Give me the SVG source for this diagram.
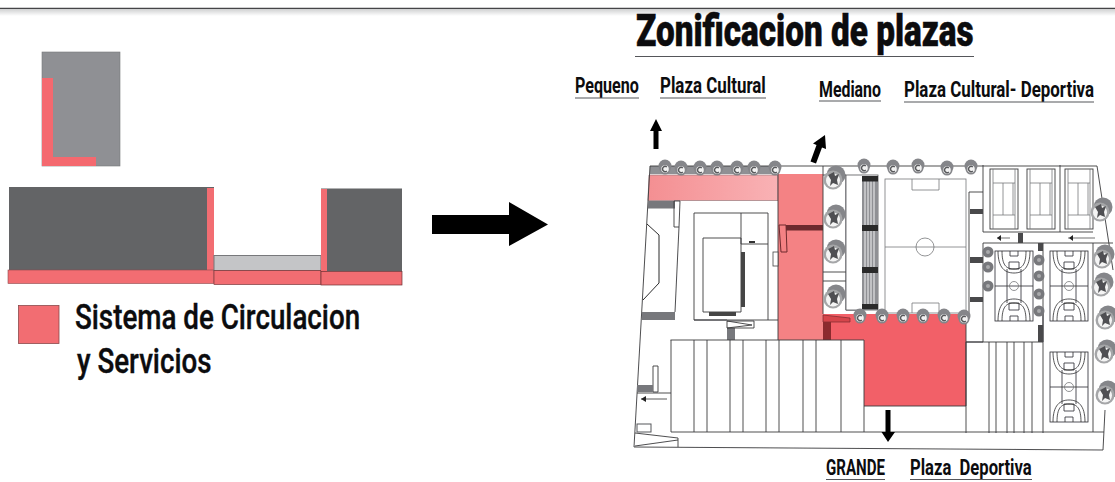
<svg xmlns="http://www.w3.org/2000/svg" width="1115" height="482" viewBox="0 0 1115 482">
<style>
.t{font-family:"Roboto","Liberation Sans",sans-serif;font-weight:700;fill:#0c0c0e}
.h{font-weight:900;stroke:#0c0c0e;stroke-width:.5}
.l{fill:none;stroke:#3a3a3c;stroke-width:.9}
.g{fill:none;stroke:#77787b;stroke-width:.8}
.k{fill:#2a2a2c}
.pk{fill:#f26d72}
.u{stroke:#55565a;stroke-width:1.2}
.a{fill:#000}
</style>
<defs>
<linearGradient id="shade" x1="0" y1="0" x2="0" y2="1"><stop offset="0" stop-color="#cfd0d1"/><stop offset="1" stop-color="#fff"/></linearGradient>
<linearGradient id="pl" x1="0" y1="0" x2="1" y2="0"><stop offset="0" stop-color="#f48f92"/><stop offset="1" stop-color="#f9b2b5"/></linearGradient>
<filter id="soft" x="-2%" y="-2%" width="104%" height="104%"><feGaussianBlur stdDeviation=".45"/></filter>
<g id="ts"><circle cx="0" cy="-2" r="6.500" fill="#85868a"/><circle cx="0" cy="1" r="5.500" fill="#85868a"/><circle cx="0" cy="1" r="3.800" fill="#f2f2f2"/><path d="M1.800-1A2.600 2.600 0 1 0 1.800 3" fill="none" stroke="#58595b" stroke-width="1.400"/></g>
<g id="tl"><circle cx="2" cy="-3" r="9.500" fill="#85868a"/><circle cx="-1" cy="2" r="9.500" fill="#a5a6a8"/><circle cx="-1" cy="2.500" r="7" fill="#f4f4f4"/><path d="M-6-3 0-6 1-2 5-4 3 2 4 7-1 5-4 8-3 2Z" fill="#4f5052"/></g>
<g id="sm"><circle r="5.500" fill="#77787b"/><circle r="2" fill="#a8a9ab"/></g>
<g id="court"><rect width="28" height="60" class="l"/><path d="M3 0V60M25 0V60" class="g"/><path d="M13 14V46M23 14V46M3 14H25M3 46H25" class="g"/></g>
<g id="bb" fill="none" stroke="#2c2c2e" stroke-width=".8"><rect width="38" height="70"/><path d="M0 35H38"/><circle cx="19" cy="35" r="4.500" stroke="#77787b"/><path d="M7 0C7 14 11 18 19 18S31 14 31 0M3 0C3 17 10 22 19 22S35 17 35 0"/><path d="M7 70C7 56 11 52 19 52S31 56 31 70M3 70C3 53 10 48 19 48S35 53 35 70"/><path d="M12 18V52M26 18V52"/><path d="M15 0V5H23V0M14 11H24V18H14ZM15 70V65H23V70M14 59H24V52H14Z"/></g>
</defs>
<g id="top-rule">
<rect x="0" y="9" width="1115" height="7" fill="url(#shade)"/>
<path d="M0 8.300H1115" stroke="#454547" stroke-width="1.200"/>
</g>
<g id="upper-block">
<rect x="42" y="52" width="78" height="114" fill="#8f9094" stroke="#77787b" stroke-width=".6"/>
<path d="M42 78H53V157H96V166H42Z" fill="#f4696f"/>
</g>
<g id="left-block">
<rect x="9" y="187" width="205" height="84" fill="#636466"/>
<rect x="207" y="188" width="7" height="83" class="pk"/>
<rect x="8" y="270" width="206" height="13.500" class="pk" stroke="#8a4a4c" stroke-width=".6"/>
</g>
<g id="middle-block">
<rect x="214" y="255.500" width="107" height="15" fill="#c4c5c7" stroke="#77787b"/>
<rect x="214" y="270.500" width="107" height="14" class="pk" stroke="#7a3a3c" stroke-width=".7"/>
</g>
<g id="right-block">
<rect x="321" y="188.500" width="81" height="83" fill="#636466"/>
<rect x="321" y="189" width="6" height="83" class="pk"/>
<rect x="321" y="271.500" width="81" height="13.500" class="pk" stroke="#6e3033" stroke-width=".7"/>
</g>
<g id="legend">
<rect x="18.500" y="305.500" width="40.500" height="38" class="pk" stroke="#8a4a4c" stroke-width=".8"/>
<text class="t" transform="translate(75 329) scale(.81 1)" font-size="35" textLength="352" lengthAdjust="spacingAndGlyphs" style="font-weight:500;stroke:#0c0c0e;stroke-width:.4">Sistema de Circulacion</text>
<text class="t" transform="translate(77 373) scale(.81 1)" font-size="35" textLength="166" lengthAdjust="spacingAndGlyphs" style="font-weight:500;stroke:#0c0c0e;stroke-width:.4">y Servicios</text>
</g>
<g id="title">
<text class="t h" transform="translate(636 46) scale(.8 1)" font-size="44" textLength="422" lengthAdjust="spacingAndGlyphs">Zonificacion de plazas</text>
<path d="M635 56.500H974" class="u"/>
</g>
<g id="labels">
<text class="t" transform="translate(575 93) scale(.76 1)" font-size="22" textLength="84" lengthAdjust="spacingAndGlyphs">Pequeno</text><path d="M575 98H639" class="u"/>
<text class="t" transform="translate(660 93) scale(.72 1)" font-size="22" textLength="147" lengthAdjust="spacingAndGlyphs">Plaza Cultural</text><path d="M660 98H766" class="u"/>
<text class="t" transform="translate(819 97) scale(.72 1)" font-size="22" textLength="86" lengthAdjust="spacingAndGlyphs">Mediano</text><path d="M819 101H881" class="u"/>
<text class="t" transform="translate(904 97) scale(.72 1)" font-size="22" textLength="264" lengthAdjust="spacingAndGlyphs">Plaza Cultural- Deportiva</text><path d="M904 102H1094" class="u"/>
<text class="t" transform="translate(826 475) scale(.72 1)" font-size="22" textLength="82" lengthAdjust="spacingAndGlyphs">GRANDE</text><path d="M826 479.500H885" class="u"/>
<text class="t" transform="translate(910 475) scale(.78 1)" font-size="22" textLength="156" lengthAdjust="spacingAndGlyphs" xml:space="preserve">Plaza  Deportiva</text><path d="M910 479.500H1032" class="u"/>
</g>
<g id="plan" filter="url(#soft)">
<rect x="650" y="166" width="128" height="8" fill="#8f9094"/>
<path d="M649 175H778V200.500H648Z" fill="url(#pl)" stroke="#9a7a7c" stroke-width=".7"/>
<rect x="778" y="174" width="45" height="166" fill="#f48284"/>
<path d="M823 314H966V406H864V340H823Z" fill="#f26168"/>
<path d="M864 340V406H966V314" class="l"/>
<rect x="786" y="225" width="37" height="5.500" fill="#6d2a2d"/>
<path d="M650 166H1097L1113 270M650 166 634 447 1103 450 1105 410" class="l"/>
<path d="M778 166V340M823 166V314M823 175H846M823 272H846M823 281H846M846 175V310H862" class="l"/>
<path d="M694 213H768V320H694ZM703 238H741V312H703ZM741 213V244H768M768 320H778" class="l"/>
<rect x="741" y="252" width="4" height="55" fill="#444"/>
<rect x="709" y="312" width="27" height="4" fill="#444"/>
<rect x="749" y="241" width="6" height="2" fill="#333"/>
<g fill="#77787b"><rect x="648" y="201" width="27" height="7.500"/><rect x="642" y="312" width="33" height="8"/><rect x="727" y="328" width="8" height="12"/></g>
<path d="M674 201H680L679 227H674ZM675 312 679 227" class="l"/>
<path d="M647 224 659 235V283L643 300" fill="none" stroke="#2a2a2c" stroke-width="1"/>
<path d="M727 321H754V328H727ZM727 321 752 325 727 328M694 320 727 320" class="l"/>
<path d="M779 225H786L787 252H781Z" fill="none" stroke="#6d2a2d"/>
<rect x="773" y="252" width="5" height="14" fill="#fff" stroke="#444" stroke-width=".8"/>
<path d="M823 315 850 318V322H830L823 322Z" fill="#d6454c" stroke="#7a2a2e" stroke-width=".7"/>
<rect x="823" y="322" width="8" height="18" fill="#8c2a2e"/>
<path d="M670.500 340H864M671 340V432M966 342H1043M966 342V433M1043 310V433M671 432H1104M1093 243V432M694 340V432M707 340V432M730 340V432M743 340V432M766 340V432M779 340V432M803 340V432M816 340V432M841 340V432M864 406V432M989 342V433M996 342V433M1007 342V433M1014 342V433M1024 342V433M1032 342V433" class="l"/>
<rect x="846" y="175" width="32" height="135" fill="#fff" stroke="#55565a" stroke-width=".8"/>
<rect x="862" y="176" width="16" height="133" fill="#8f9094"/>
<path d="M865 176V309M868 176V309M871 176V309M874 176V309" stroke="#fff" stroke-width=".9"/>
<g class="k"><rect x="862" y="176" width="16" height="5.500"/><rect x="862" y="225" width="16" height="6"/><rect x="862" y="267" width="16" height="6"/><rect x="862" y="304" width="16" height="5.500"/></g>
<g id="field" class="g" stroke="#77787b"><rect x="885" y="179" width="81" height="134"/><path d="M885 247H966M912 179V190H939V179M912 313V303H939V313"/><circle cx="925" cy="247" r="9"/></g>
<path d="M969 192V315M969 192H983M983 165V232M983 232H1093M1060 165V232M983 243H1113M983 243V342H966M1043 243V342" class="l"/>
<g fill="#4a4a4c"><rect x="970" y="209" width="13" height="5"/><rect x="970" y="257" width="13" height="6"/><rect x="970" y="297" width="13" height="5"/><rect x="1018" y="233" width="5" height="10"/><rect x="1038" y="243" width="5" height="8"/><rect x="1038" y="325" width="5" height="17"/></g>
<use href="#court" x="990" y="169"/><use href="#court" x="1027" y="169"/><use href="#court" x="1065" y="169"/>
<use href="#bb" x="995" y="251"/><use href="#bb" x="1050" y="251"/><use href="#bb" x="1050" y="352"/>
<path d="M997 238H1010M1068 238H1095" stroke="#333" stroke-width=".7"/><path d="M1001 235V241L997 238ZM1073 235V241L1069 238Z" fill="#222"/>
<path d="M653 366H658V392H653ZM637 393H671" class="l"/><rect x="637" y="385" width="16" height="7" fill="#77787b"/>
<path d="M641 399H667" stroke="#333" stroke-width=".8"/><path d="M646 396V402L641 399Z" fill="#222"/>
<rect x="637" y="424" width="14" height="8" fill="#fff" stroke="#55565a"/>
<path d="M635 433 678 438V447M635 446 678 440" class="l"/>
<g><use href="#ts" x="665" y="168"/><use href="#ts" x="681" y="169"/><use href="#ts" x="700" y="169"/><use href="#ts" x="717" y="169"/><use href="#ts" x="737" y="169"/><use href="#ts" x="754" y="169"/><use href="#ts" x="775" y="169"/>
<use href="#ts" x="864" y="167"/><use href="#ts" x="893" y="168"/><use href="#ts" x="918" y="167"/><use href="#ts" x="947" y="169"/><use href="#ts" x="971" y="168"/>
<use href="#ts" x="860" y="317"/><use href="#ts" x="882" y="317"/><use href="#ts" x="903" y="317"/><use href="#ts" x="923" y="317"/><use href="#ts" x="944" y="317"/><use href="#ts" x="964" y="318"/></g>
<g><use href="#tl" x="834" y="178"/><use href="#tl" x="834" y="217"/><use href="#tl" x="834" y="252"/><use href="#tl" x="834" y="297"/>
<use href="#tl" x="1101" y="210"/><use href="#tl" x="1103" y="257"/><use href="#tl" x="1102" y="285"/><use href="#tl" x="1106" y="318"/><use href="#tl" x="1105" y="352"/><use href="#tl" x="1106" y="393"/></g>
<g><use href="#sm" x="988" y="252"/><use href="#sm" x="988" y="267"/><use href="#sm" x="988" y="286"/><use href="#sm" x="1039" y="260"/><use href="#sm" x="1039" y="276"/><use href="#sm" x="1039" y="294"/><use href="#sm" x="1039" y="311"/></g>
</g>
<g id="connectors">
<path class="a" d="M653.500 149V131H650L656 119 662 131H658.500V149Z"/>
<path class="a" d="M810.500 161.500 816.500 145 813 143.500 825 135 826 149 822 147.500 816 163.500Z"/>
<path class="a" d="M885.500 410H890.500V432H895L888 442 881.500 432H885.500Z"/>
<path class="a" d="M432 215H509V202L548 224.500 509 246V234H432Z"/>
</g>
</svg>
